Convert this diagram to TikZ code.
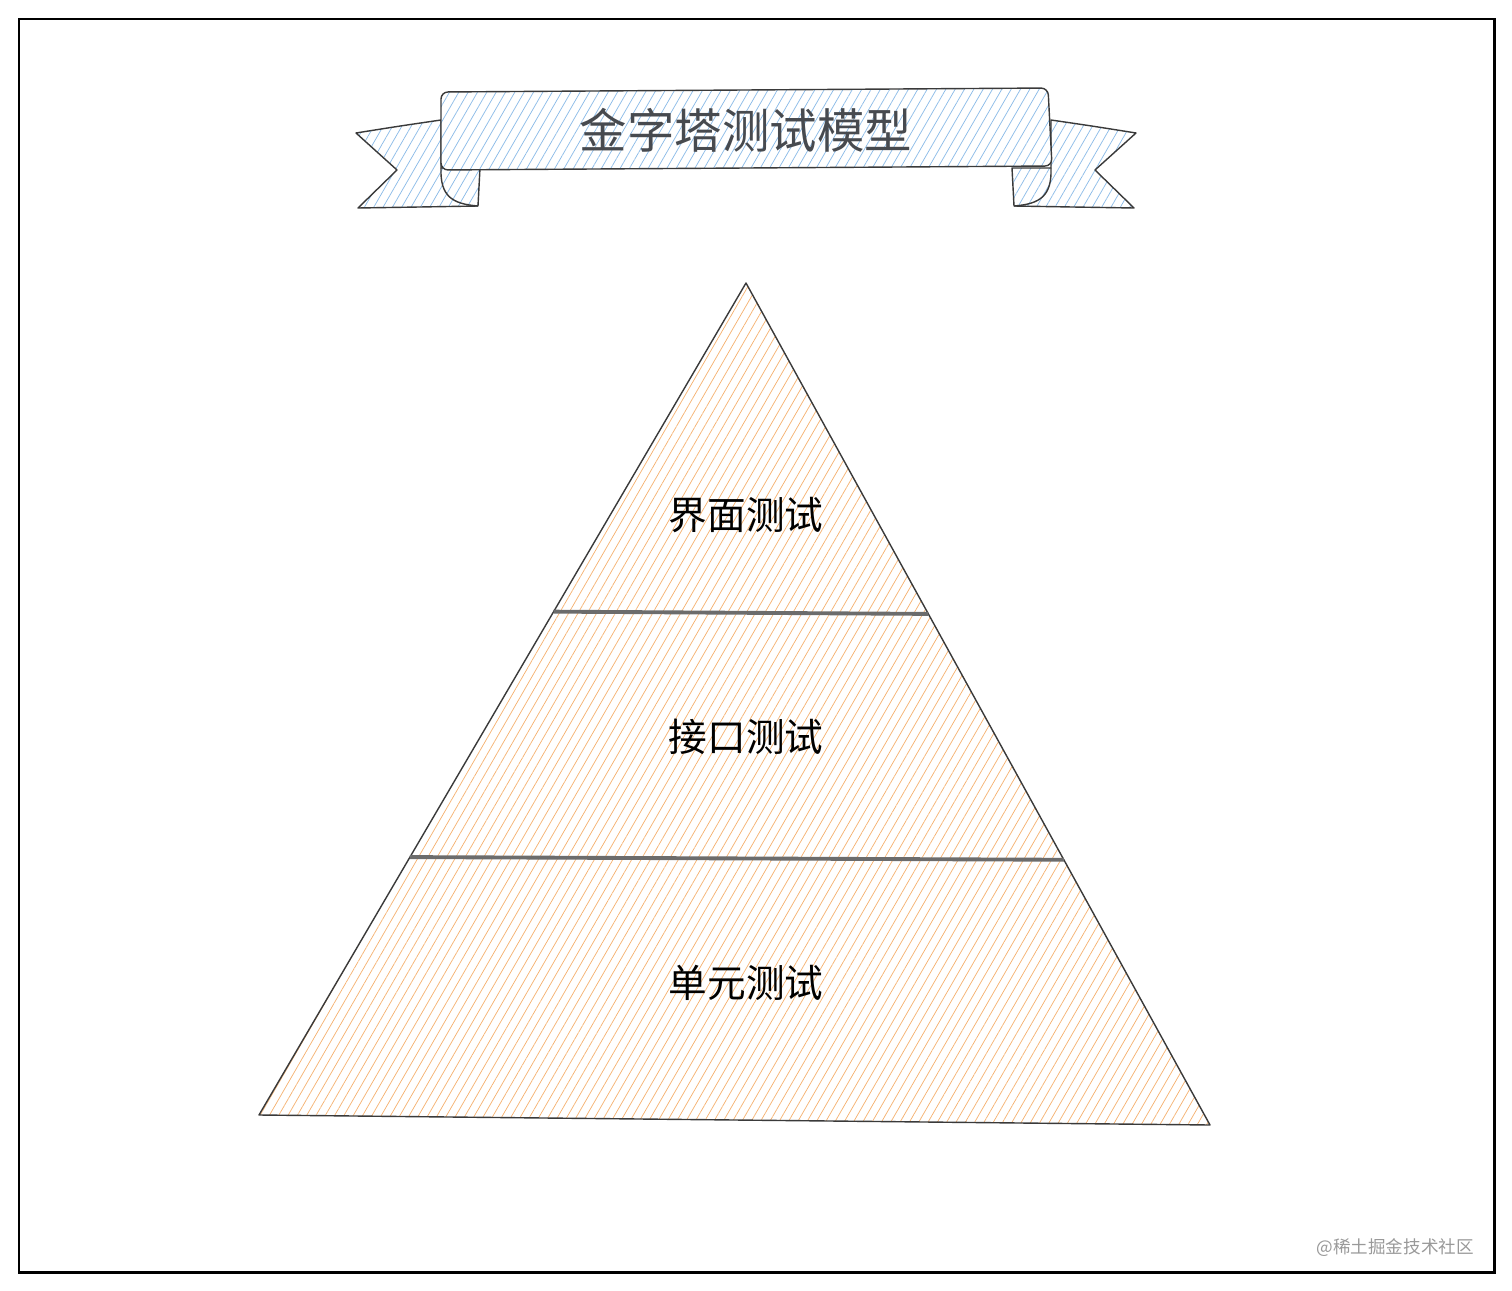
\documentclass[tikz,border=0pt]{standalone}
\usepackage{fontspec}
\setmainfont{Noto Sans CJK SC}
\usepackage{xcolor}
\usetikzlibrary{patterns.meta,calc}

\definecolor{hatchorange}{HTML}{F5B272}
\definecolor{hatchblue}{HTML}{8DBCE8}
\definecolor{inkgray}{HTML}{3A3A3A}
\definecolor{titlegray}{HTML}{474A4F}

\begin{document}
\begin{tikzpicture}[
  x=0.02cm, y=-0.02cm,
  frame/.style={draw=black, line width=1.7pt},
  ribbon/.style={draw=inkgray, line width=0.8pt, line join=round, preaction={fill=white},
    pattern={Lines[angle=60, distance=4.6pt, line width=0.42pt]}, pattern color=hatchblue},
  layer/.style={draw=inkgray, line width=0.8pt, line join=round,
    pattern={Lines[angle=60, distance=4.6pt, line width=0.42pt]}, pattern color=hatchorange},
  divider/.style={draw=gray!85!black, line width=2.2pt},
  tier/.style={font=\fontsize{22}{26}\selectfont, text=black},
  heading/.style={font=\fontsize{27}{32}\selectfont, text=titlegray},
  watermark/.style={font=\fontsize{10}{12}\selectfont, text=gray!80, anchor=east}
]
  \useasboundingbox (0,0) rectangle (1512,1291);
  \draw[frame] (19,19) rectangle (1494,1272);

  % banner
  \draw[ribbon] (441,120) .. controls (400,126) .. (356,133) -- (397,170) -- (358,208)
    .. controls (420,207) .. (478,206) -- (480,168) -- (441,168) -- cycle;
  \draw[ribbon] (1051,120) .. controls (1092,126) .. (1136,133) -- (1095,170) -- (1134,208)
    .. controls (1072,207) .. (1014,206) -- (1012,168) -- (1051,168) -- cycle;
  \draw[inkgray, line width=0.8pt] (441,168) .. controls (440,196) and (452,204) .. (478,206);
  \draw[inkgray, line width=0.8pt] (1051,168) .. controls (1052,196) and (1040,204) .. (1014,206);
  \draw[ribbon, rounded corners=4pt] (441,92) -- (1048,88) -- (1052,166) -- (441,170) -- cycle;
  \node[heading] (title) at (746,130) {金字塔测试模型};

  % pyramid
  \coordinate (apex) at (746,283);
  \coordinate (bl) at (259,1115);
  \coordinate (br) at (1210,1125);
  \draw[layer] (apex) -- (bl) -- (br) -- cycle;
  \coordinate (l1) at ($(apex)!0.395!(bl)$);
  \coordinate (r1) at ($(apex)!0.393!(br)$);
  \coordinate (l2) at ($(apex)!0.69!(bl)$);
  \coordinate (r2) at ($(apex)!0.685!(br)$);
  \draw[divider] (l1) -- (r1);
  \draw[divider] (l2) -- (r2);

  \node[tier] (ui) at (746,515) {界面测试};
  \node[tier] (api) at (746,737) {接口测试};
  \node[tier] (unit) at (746,983) {单元测试};

  \node[watermark] (source) at (1480,1248) {@稀土掘金技术社区};
\end{tikzpicture}
\end{document}
